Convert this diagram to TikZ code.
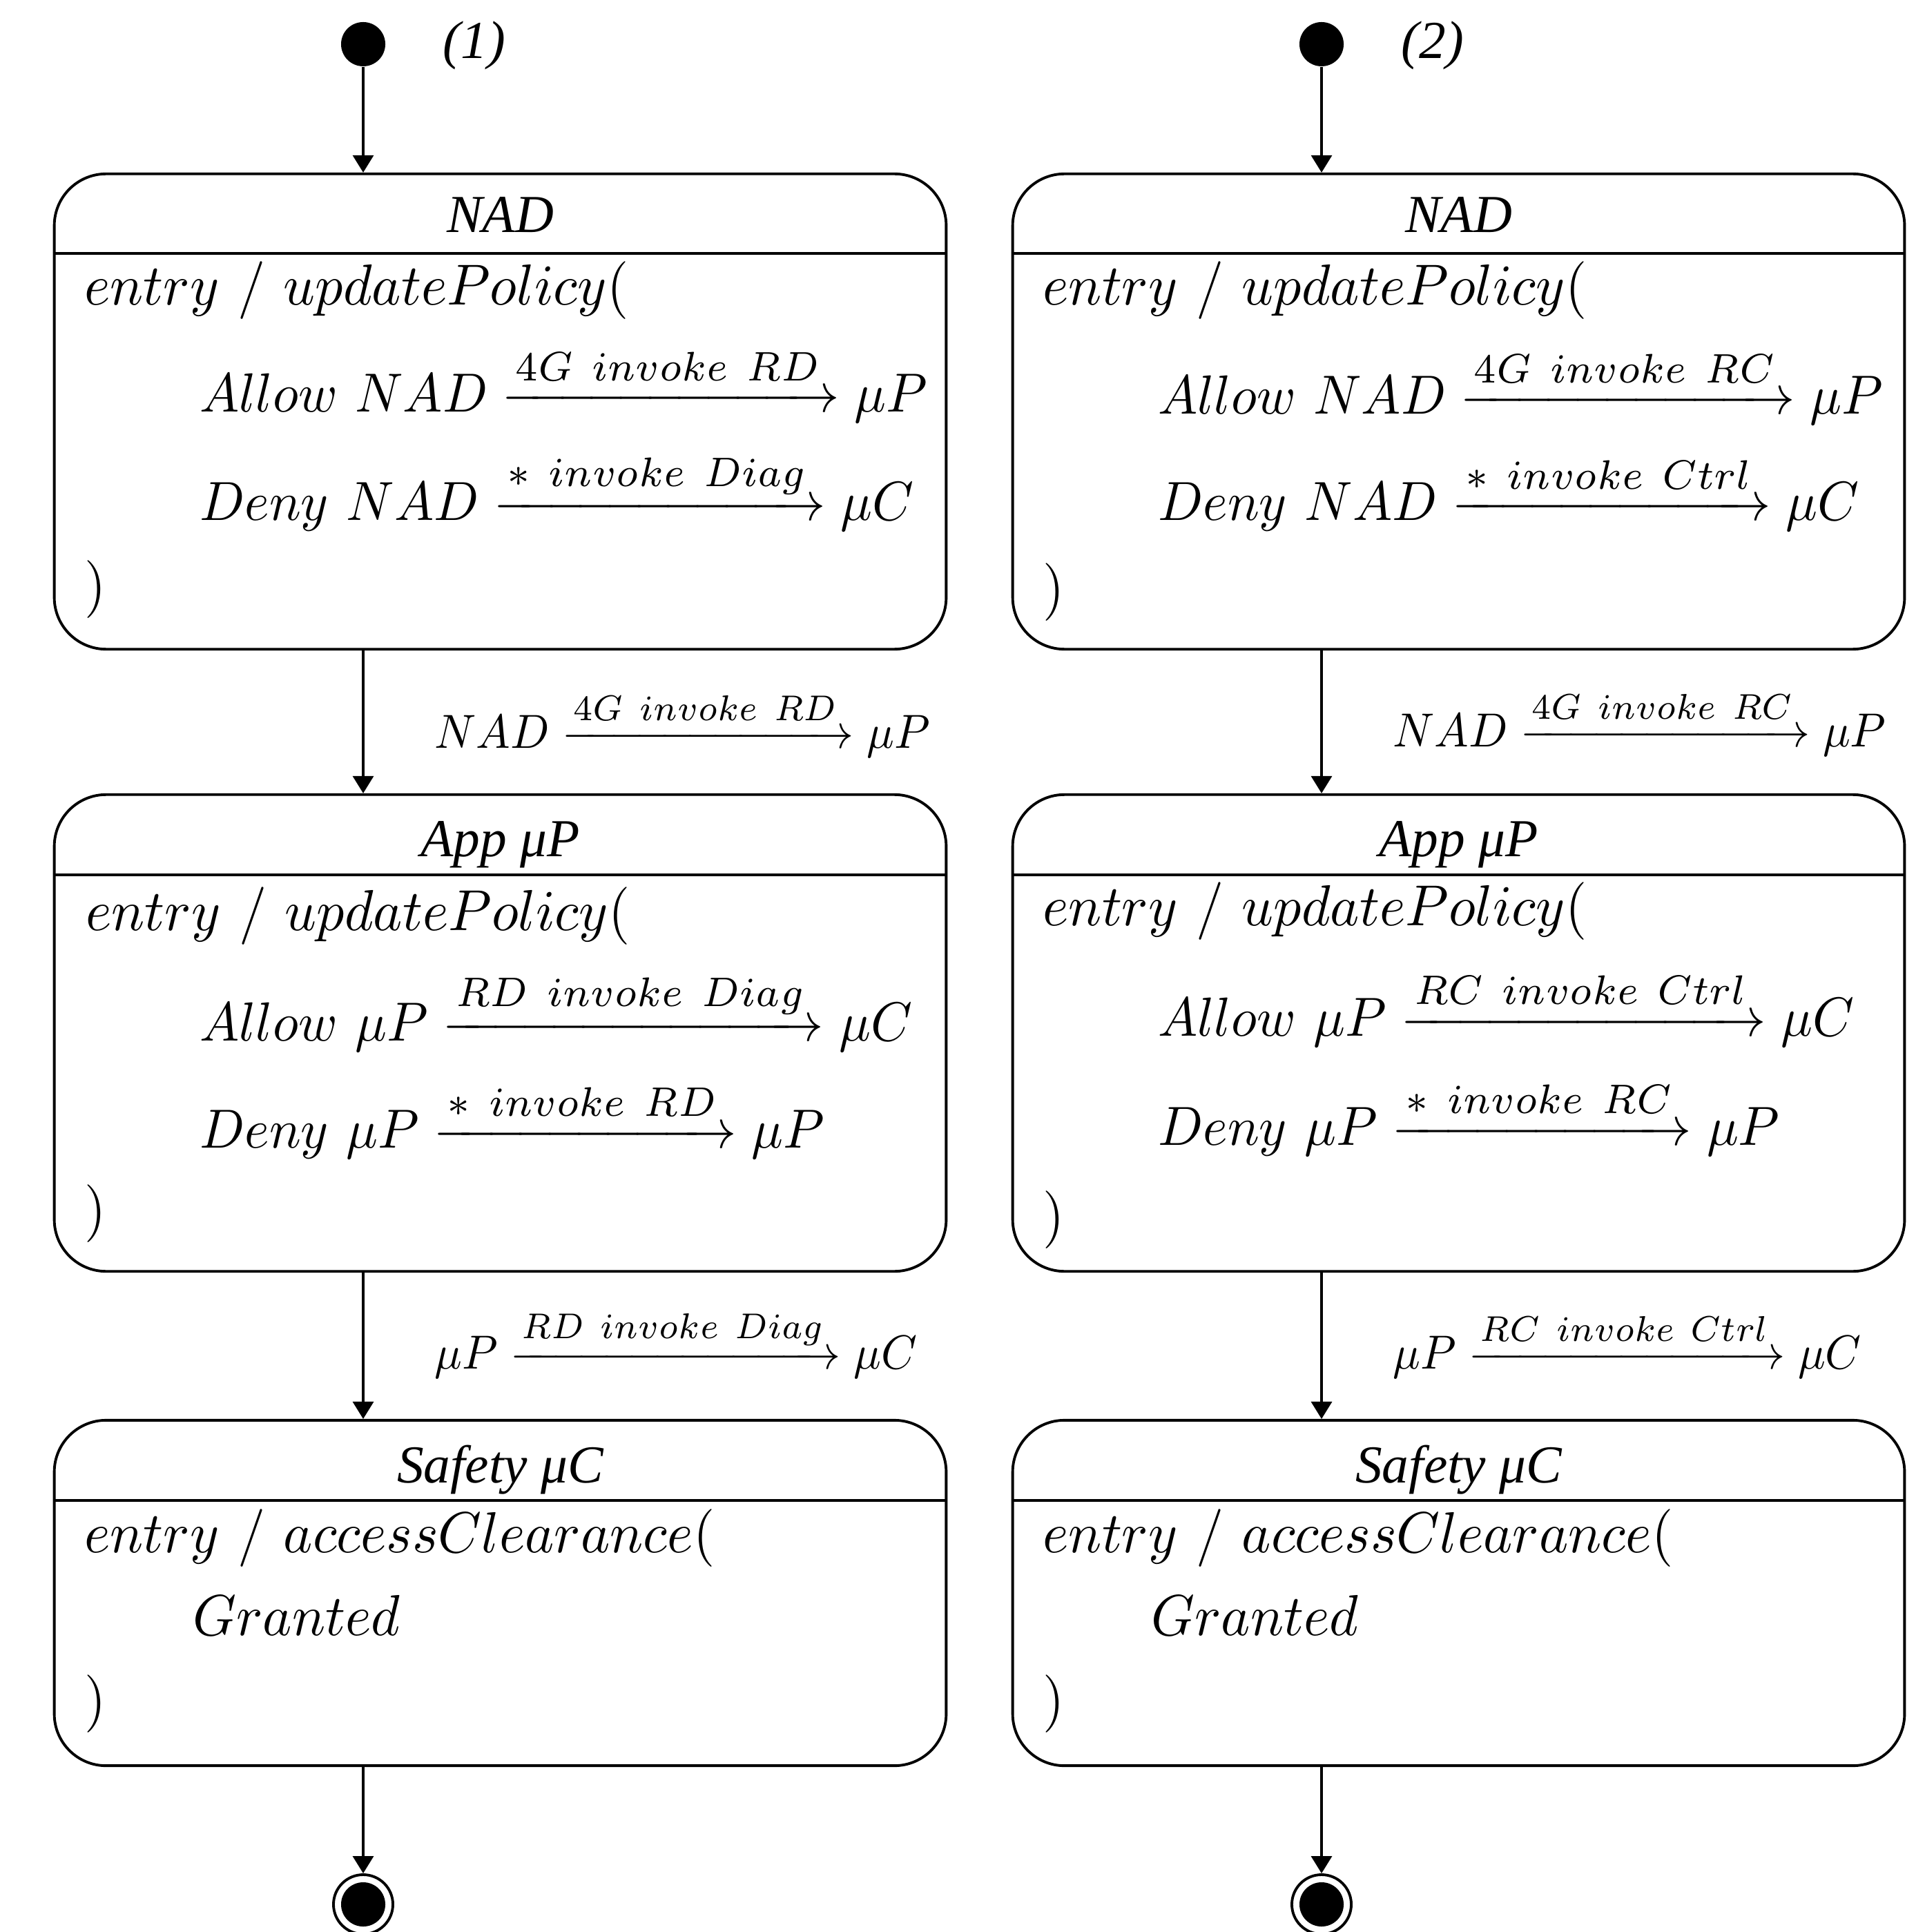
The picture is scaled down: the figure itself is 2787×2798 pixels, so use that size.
\documentclass[tikz,border=0pt]{standalone}
\usepackage{amsmath}
\usepackage{graphicx}
\usepackage[no-math]{fontspec}
\newfontfamily\timesfont{Liberation Serif}
\usetikzlibrary{arrows.meta}
\newcommand\arrlab[1]{\scalebox{1.07}{$\scriptstyle #1$}}
\tikzset{
  stbox/.style={draw, rounded corners=0.75cm, line width=1.1pt, minimum width=12.91cm, inner sep=0pt},
  sepline/.style={line width=1.1pt},
  hdr/.style={anchor=base, font=\fontsize{22}{26}\timesfont\itshape, inner sep=0pt},
  body/.style={anchor=base west, inner sep=0pt, xscale=2.28, yscale=2.38, transform shape},
  arrline/.style={anchor=base west, inner sep=0pt, xscale=2.17, yscale=2.27, transform shape},
  trans/.style={anchor=base west, inner sep=0pt, xscale=1.88, yscale=1.97, transform shape},
  conn/.style={line width=0.95pt, -{Triangle[width=0.3cm,length=0.25cm]}},
  initst/.style={circle, fill, minimum size=0.64cm, inner sep=0pt},
  finalst/.style={circle, draw, line width=1.1pt, minimum size=0.86cm, inner sep=0pt,
    path picture={\fill (path picture bounding box.center) circle (0.32cm);}}
}
\begin{document}
\begin{tikzpicture}[x=0.01cm, y=-0.01cm]
\useasboundingbox (0,0) rectangle (2787,2798);
% ---------- column (1) ----------
\node[initst] (i1) at (526,64) {};
\node[hdr] (lab1) at (687,85) {(1)};
\node[stbox, minimum height=6.88cm] (L1) at (724.5,596) {};
\draw[sepline] (L1.west |- 0,367) -- (L1.east |- 0,367);
\node[hdr] (L1h) at (724.5,337) {NAD};
\node[body] (L1a) at (121,442) {$entry\ /\ updatePolicy($};
\node[arrline] (L1b) at (288,597) {$Allow\ NAD \xrightarrow{\arrlab{4G\ invoke\ RD}} \mu P$};
\node[arrline] (L1c) at (288,754) {$Deny\ NAD \xrightarrow{\arrlab{\ast\ invoke\ Diag}} \mu C$};
\node[body] (L1d) at (121,875) {$)$};

\node[stbox, minimum height=6.90cm] (L2) at (724.5,1496) {};
\draw[sepline] (L2.west |- 0,1267) -- (L2.east |- 0,1267);
\node[hdr] (L2h) at (724.5,1240) {App μP};
\node[body] (L2a) at (123,1347) {$entry\ /\ updatePolicy($};
\node[arrline] (L2b) at (288,1507) {$Allow\ \mu P \xrightarrow{\arrlab{RD\ invoke\ Diag}} \mu C$};
\node[arrline] (L2c) at (288,1662) {$Deny\ \mu P \xrightarrow{\arrlab{\ast\ invoke\ RD}} \mu P$};
\node[body] (L2d) at (121,1778) {$)$};

\node[stbox, minimum height=5.00cm] (L3) at (724.5,2307) {};
\draw[sepline] (L3.west |- 0,2173) -- (L3.east |- 0,2173);
\node[hdr] (L3h) at (724.5,2147) {Safety μC};
\node[body] (L3a) at (121,2248) {$entry\ /\ accessClearance($};
\node[body] (L3b) at (278,2368) {$Granted$};
\node[body] (L3c) at (121,2488) {$)$};

\node[finalst] (f1) at (526,2758) {};

\draw[conn] (i1) -- (i1 |- L1.north);
\draw[conn] (i1 |- L1.south) -- (i1 |- L2.north);
\draw[conn] (i1 |- L2.south) -- (i1 |- L3.north);
\draw[conn] (i1 |- L3.south) -- (f1);
\node[trans] (t1l) at (628,1083) {$NAD \xrightarrow{\arrlab{4G\ invoke\ RD}} \mu P$};
\node[trans] (t2l) at (628,1982) {$\mu P \xrightarrow{\arrlab{RD\ invoke\ Diag}} \mu C$};

% ---------- column (2) ----------
\node[initst] (i2) at (1914,64) {};
\node[hdr] (lab2) at (2075,85) {(2)};
\node[stbox, minimum height=6.88cm] (R1) at (2112.5,596) {};
\draw[sepline] (R1.west |- 0,367) -- (R1.east |- 0,367);
\node[hdr] (R1h) at (2112.5,337) {NAD};
\node[body] (R1a) at (1509,442) {$entry\ /\ updatePolicy($};
\node[arrline] (R1b) at (1676,600) {$Allow\ NAD \xrightarrow{\arrlab{4G\ invoke\ RC}} \mu P$};
\node[arrline] (R1c) at (1676,754) {$Deny\ NAD \xrightarrow{\arrlab{\ast\ invoke\ Ctrl}} \mu C$};
\node[body] (R1d) at (1509,879) {$)$};

\node[stbox, minimum height=6.90cm] (R2) at (2112.5,1496) {};
\draw[sepline] (R2.west |- 0,1267) -- (R2.east |- 0,1267);
\node[hdr] (R2h) at (2112.5,1240) {App μP};
\node[body] (R2a) at (1509,1340) {$entry\ /\ updatePolicy($};
\node[arrline] (R2b) at (1676,1500) {$Allow\ \mu P \xrightarrow{\arrlab{RC\ invoke\ Ctrl}} \mu C$};
\node[arrline] (R2c) at (1676,1658) {$Deny\ \mu P \xrightarrow{\arrlab{\ast\ invoke\ RC}} \mu P$};
\node[body] (R2d) at (1509,1787) {$)$};

\node[stbox, minimum height=5.00cm] (R3) at (2112.5,2307) {};
\draw[sepline] (R3.west |- 0,2173) -- (R3.east |- 0,2173);
\node[hdr] (R3h) at (2112.5,2147) {Safety μC};
\node[body] (R3a) at (1509,2248) {$entry\ /\ accessClearance($};
\node[body] (R3b) at (1666,2368) {$Granted$};
\node[body] (R3c) at (1509,2488) {$)$};

\node[finalst] (f2) at (1914,2758) {};

\draw[conn] (i2) -- (i2 |- R1.north);
\draw[conn] (i2 |- R1.south) -- (i2 |- R2.north);
\draw[conn] (i2 |- R2.south) -- (i2 |- R3.north);
\draw[conn] (i2 |- R3.south) -- (f2);
\node[trans] (t1r) at (2016,1081) {$NAD \xrightarrow{\arrlab{4G\ invoke\ RC}} \mu P$};
\node[trans] (t2r) at (2016,1982) {$\mu P \xrightarrow{\arrlab{RC\ invoke\ Ctrl}} \mu C$};
\end{tikzpicture}
\end{document}
